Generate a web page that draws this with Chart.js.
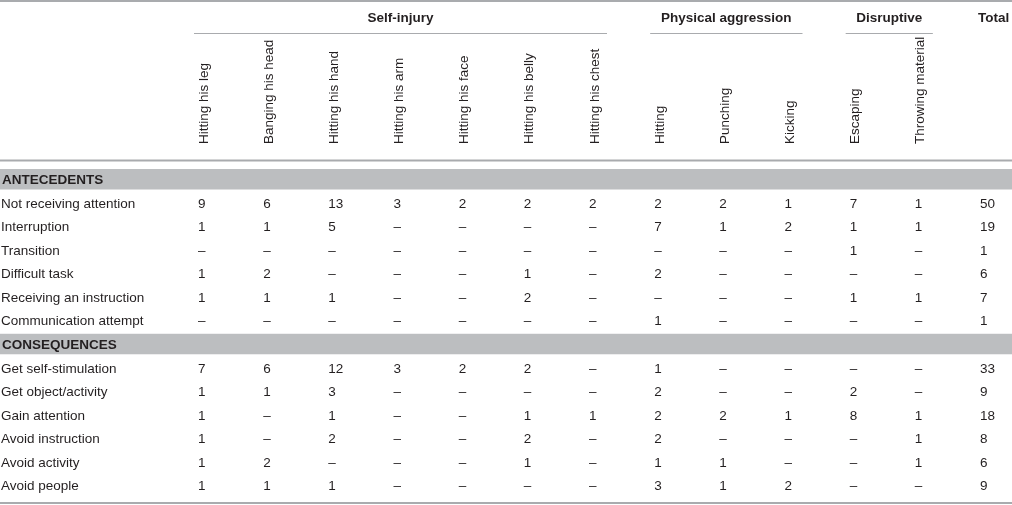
<!DOCTYPE html>
<html>
<head>
<meta charset="utf-8">
<script src="https://cdn.jsdelivr.net/npm/chart.js@4"></script>
<style>
html,body{margin:0;padding:0;background:#fff;}
#wrap{width:1012px;height:505px;}
</style>
</head>
<body>
<div id="wrap"><canvas id="c" width="1012" height="505"></canvas></div>
<script>
// ---- data ----
const columns = ["Hitting his leg","Banging his head","Hitting his hand","Hitting his arm","Hitting his face","Hitting his belly","Hitting his chest","Hitting","Punching","Kicking","Escaping","Throwing material","Total"];
const groupNames = ["Self-injury","Physical aggression","Disruptive"];
const groupFirstCol = [0,7,10];
const groupLastCol = [6,9,11];
const sections = ["ANTECEDENTS","CONSEQUENCES"];
const antecedentLabels = ["Not receiving attention","Interruption","Transition","Difficult task","Receiving an instruction","Communication attempt"];
const antecedentValues = [
  [9,6,13,3,2,2,2,2,2,1,7,1],
  [1,1,5,null,null,null,null,7,1,2,1,1],
  [null,null,null,null,null,null,null,null,null,null,1,null],
  [1,2,null,null,null,1,null,2,null,null,null,null],
  [1,1,1,null,null,2,null,null,null,null,1,1],
  [null,null,null,null,null,null,null,1,null,null,null,null]
];
const antecedentTotals = [50,19,1,6,7,1];
const consequenceLabels = ["Get self-stimulation","Get object/activity","Gain attention","Avoid instruction","Avoid activity","Avoid people"];
const consequenceValues = [
  [7,6,12,3,2,2,null,1,null,null,null,null],
  [1,1,3,null,null,null,null,2,null,null,2,null],
  [1,null,1,null,null,1,1,2,2,1,8,1],
  [1,null,2,null,null,2,null,2,null,null,null,1],
  [1,2,null,null,null,1,null,1,1,null,null,1],
  [1,1,1,null,null,null,null,3,1,2,null,null]
];
const consequenceTotals = [33,9,18,8,6,9];

// ---- build row list ----
const rows = [];
rows.push({type:"section", label:sections[0]});
antecedentLabels.forEach((l,i)=>rows.push({type:"data", label:l, values:antecedentValues[i].concat([antecedentTotals[i]])}));
rows.push({type:"section", label:sections[1]});
consequenceLabels.forEach((l,i)=>rows.push({type:"data", label:l, values:consequenceValues[i].concat([consequenceTotals[i]])}));
const rowKeys = rows.map(r=>r.label);

const FONT = '"Liberation Sans", Arial, Helvetica, sans-serif';
const TXT = '#231f20';
const BAND = '#bcbec0';
const RULE = '#a9abae';

const tablePlugin = {
  id:'tablePlugin',
  afterDraw(chart){
    const ctx = chart.ctx;
    const xs = chart.scales.x, ys = chart.scales.y;
    const W = chart.width;
    const X = i => xs.getPixelForValue(i);
    const Y = i => ys.getPixelForValue(i);
    ctx.save();
    // section bands
    rows.forEach((r,i)=>{
      if(r.type==='section'){
        const y = Y(i);
        ctx.fillStyle = BAND;
        ctx.fillRect(0, y-10, W, 20.5);
      }
    });
    // rules
    ctx.fillStyle = RULE;
    ctx.fillRect(0, 0, W, 2);
    ctx.fillRect(0, 159.5, W, 2);
    ctx.fillRect(0, Y(rows.length-1)+17, W, 2);
    // group headers
    ctx.textBaseline = 'middle';
    ctx.textAlign = 'center';
    ctx.font = 'bold 13.5px ' + FONT;
    groupNames.forEach((g,k)=>{
      const x0 = X(groupFirstCol[k]) - 4;
      const x1 = X(groupLastCol[k]) + 18;
      ctx.fillStyle = RULE;
      ctx.fillRect(x0, 33, x1-x0, 1);
      ctx.fillStyle = TXT;
      ctx.fillText(g, (x0+x1)/2, 18.5);
    });
    ctx.textAlign = 'left';
    ctx.fillText(columns[columns.length-1], X(columns.length-1)-2, 18.5);
    // rotated column labels
    ctx.font = '13.5px ' + FONT;
    ctx.textBaseline = 'alphabetic';
    for(let i=0;i<columns.length-1;i++){
      ctx.save();
      ctx.translate(X(i)+9.5, 144);
      ctx.rotate(-Math.PI/2);
      ctx.fillText(columns[i], 0, 0);
      ctx.restore();
    }
    // body
    ctx.textBaseline = 'middle';
    rows.forEach((r,i)=>{
      const y = Y(i) + 1.5;
      if(r.type==='section'){
        ctx.font = 'bold 13.5px ' + FONT;
        ctx.fillText(r.label, 2, y);
      } else {
        ctx.font = '13.5px ' + FONT;
        ctx.fillText(r.label, 1, y);
        r.values.forEach((v,j)=>{
          ctx.fillText(v===null ? '\u2013' : String(v), X(j), y);
        });
      }
    });
    ctx.restore();
  }
};

new Chart(document.getElementById('c'), {
  type:'scatter',
  data:{ datasets:[{ data:[], pointRadius:0 }] },
  options:{
    responsive:false,
    animation:false,
    layout:{ padding:{ left:198, right:32, top:179, bottom:20 } },
    plugins:{ legend:{display:false}, tooltip:{enabled:false} },
    scales:{
      x:{ type:'category', labels:columns, offset:false, display:false },
      y:{ type:'category', labels:rowKeys, offset:false, display:false }
    }
  },
  plugins:[tablePlugin]
});
</script>
</body>
</html>
